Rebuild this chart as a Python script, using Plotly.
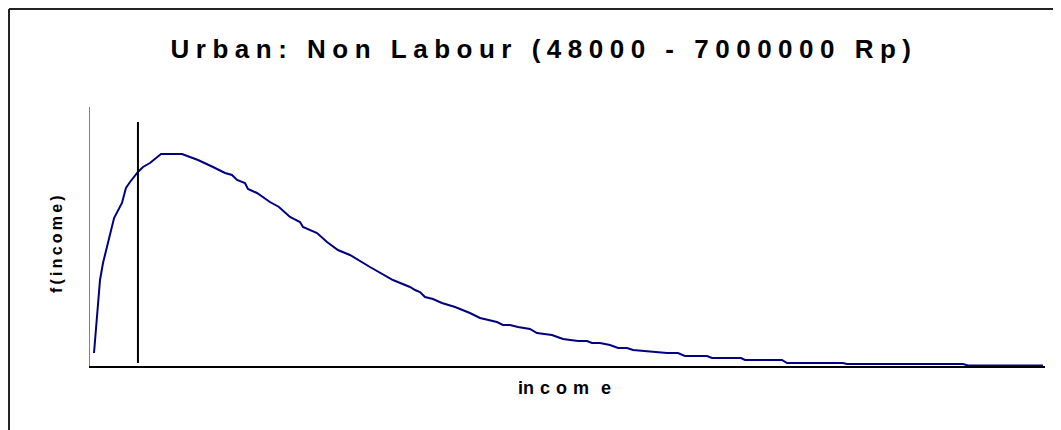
import plotly.graph_objects as go

# density curve (income in Rp, f in arbitrary units)
income = [48000, 92000, 114000, 151000, 195000, 253000, 282000, 312000, 370000,
          407000, 458000, 539000, 693000, 751000, 810000, 920000, 1008000,
          1059000, 1096000, 1154000, 1176000, 1242000, 1337000, 1403000,
          1484000, 1557000, 1579000, 1682000, 1755000, 1835000, 1923000,
          2070000, 2143000, 2238000, 2363000, 2400000, 2436000, 2473000,
          2531000, 2597000, 2693000, 2729000, 2802000, 2876000, 3000000,
          3044000, 3095000, 3154000, 3242000, 3293000, 3403000, 3484000,
          3535000, 3594000, 3660000, 3696000, 3755000, 3828000, 3887000,
          3953000, 3997000, 4085000, 4172000, 4246000, 4326000, 4377000,
          4539000, 4575000, 4788000, 4817000, 5088000, 5125000, 5535000,
          5564000, 6414000, 6451000, 7000000]
f_income = [13, 86, 103, 123, 148, 163, 178, 184, 194,
            199, 203, 212, 212, 209, 206, 199, 193,
            191, 186, 183, 177, 173, 164, 159,
            149, 144, 139, 133, 124, 116, 111,
            99, 93, 86, 79, 76, 74, 69,
            67, 63, 59, 57, 53, 48, 44,
            41, 41, 39, 37, 33, 31, 27,
            26, 25, 25, 23, 23, 21, 18,
            18, 16, 15, 14, 13, 13, 10,
            10, 8, 8, 6, 6, 3, 3,
            2, 2, 0.5, 0.5]

# vertical marker line
cut_income = [370000, 370000]
cut_f = [3, 244]

title_txt = "Urban: Non Labour (48000 - 7000000 Rp)"
sp = "\u2005"
title_spaced = (sp + " " + sp).join(sp.join(w) for w in title_txt.split(" "))

fig = go.Figure()
fig.add_trace(go.Scatter(x=income, y=f_income, mode="lines",
                         line=dict(color="#000080", width=2), showlegend=False))
fig.add_trace(go.Scatter(x=cut_income, y=cut_f, mode="lines",
                         line=dict(color="black", width=2), showlegend=False))

# frame around the chart: only left and top edges are visible in the picture
frame = dict(color="#222222", width=2)

# page body adds an 8px offset; shrink the figure so the page does not overflow
fig.update_layout(
    width=1053, height=422,
    margin=dict(l=82, r=16, t=99, b=64),
    paper_bgcolor="white", plot_bgcolor="white",
    font=dict(family="Liberation Sans, Arial, sans-serif", color="black"),
    title=dict(text="<b>" + title_spaced + "</b>", x=0.506, xanchor="center",
               y=0.903, yanchor="middle", xref="container", yref="container",
               font=dict(size=26, color="black")),
    xaxis=dict(range=[18700, 7015000], showgrid=False, zeroline=False,
               showticklabels=False, ticks="", showline=True,
               linecolor="black", linewidth=2),
    yaxis=dict(range=[0, 259], showgrid=False, zeroline=False,
               showticklabels=False, ticks="", showline=True,
               linecolor="#808080", linewidth=1),
    annotations=[
        dict(text="<b>in\u2004c\u2004o\u2004m\u2004\u2004e</b>", xref="paper", yref="paper",
             x=0.497, y=-0.085, xanchor="center", yanchor="middle",
             showarrow=False, font=dict(size=18)),
        dict(text="<b>" + "\u2009".join("f(income)") + "</b>", xref="paper", yref="paper",
             x=-0.0356, y=0.471, xanchor="center", yanchor="middle",
             textangle=-90, showarrow=False, font=dict(size=16)),
    ],
    shapes=[
        dict(type="line", xref="paper", yref="paper",
             x0=-0.0848, x1=-0.0848, y0=-0.4, y1=1.378, line=frame),
        dict(type="line", xref="paper", yref="paper",
             x0=-0.0848, x1=1.2, y0=1.378, y1=1.378, line=frame),
    ],
)

fig.write_html("out.html")
